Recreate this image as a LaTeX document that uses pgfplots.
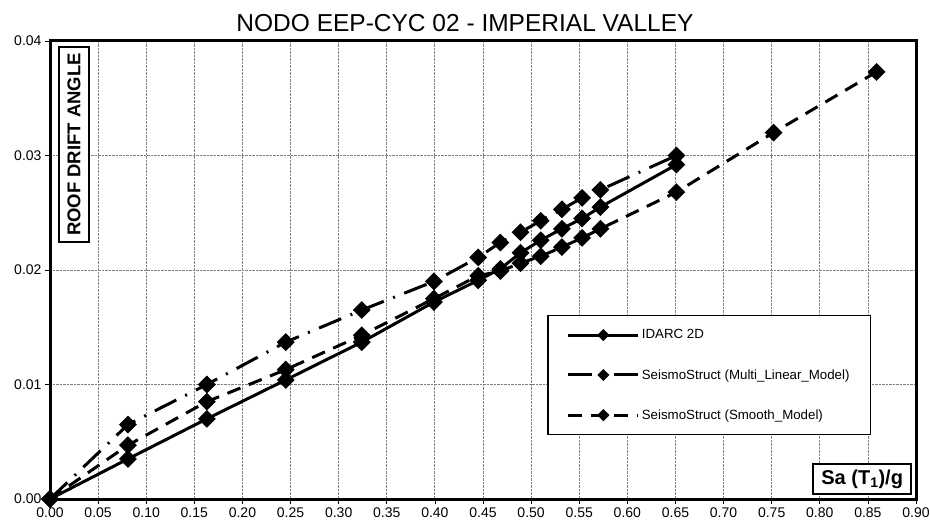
\documentclass[border=0pt]{standalone}
\usepackage{pgfplots}
\pgfplotsset{compat=1.18}
\usepackage{fontspec}
\setmainfont{Liberation Sans}

\begin{document}
\begin{tikzpicture}
\begin{axis}[
  scale only axis,
  width=866pt, height=458pt,
  xmin=0, xmax=0.9, ymin=0, ymax=0.04,
  xtick={0,0.05,0.1,0.15,0.2,0.25,0.3,0.35,0.4,0.45,0.5,0.55,0.6,0.65,0.7,0.75,0.8,0.85,0.9},
  ytick={0,0.01,0.02,0.03,0.04},
  scaled x ticks=false, scaled y ticks=false,
  /pgf/number format/fixed,
  /pgf/number format/fixed zerofill,
  /pgf/number format/precision=2,
  /pgf/number format/assume math mode=true,
  tick label style={font=\fontsize{14}{16}\selectfont},
  grid=major,
  major grid style={gray, densely dotted, line width=0.8pt},
  axis line style={line width=3pt, line cap=rect},
  tick align=outside, tick pos=left, major tick length=5pt,
  every tick/.style={black, line width=0.6pt},
  clip=false,
  legend cell align=left,
  legend style={at={(0.574,0.402)}, anchor=north west, draw=black,
    line width=1.5pt, fill=white, inner xsep=19pt, inner ysep=12pt,
    row sep=25pt, font=\fontsize{13.3}{15}\selectfont},
  legend image code/.code={\draw[mark repeat=2, mark phase=2, #1, mark size=2.8pt]
    plot coordinates {(0pt,0pt) (35pt,0pt) (70pt,0pt)};},
  every axis plot/.append style={line width=3pt, black, mark=square*,
    mark size=4.8pt, mark options={rotate=45, solid, fill=black}},
]
\addplot[solid] coordinates {
  (0,0) (0.081,0.0035) (0.163,0.0070) (0.245,0.0104) (0.324,0.0137)
  (0.399,0.0172) (0.445,0.0191) (0.468,0.0201) (0.489,0.0215) (0.510,0.0226)
  (0.532,0.0236) (0.553,0.0245) (0.572,0.0255) (0.651,0.0292)
};
\addlegendentry{IDARC 2D}
\addplot[dash pattern=on 24pt off 10pt on 2pt off 10pt] coordinates {
  (0,0) (0.081,0.0065) (0.163,0.0100) (0.245,0.0137) (0.324,0.0165)
  (0.399,0.0190) (0.445,0.0211) (0.468,0.0224) (0.489,0.0233) (0.510,0.0243)
  (0.532,0.0253) (0.553,0.0263) (0.572,0.0270) (0.651,0.0300)
};
\addlegendentry{SeismoStruct (Multi\_Linear\_Model)}
\addplot[dash pattern=on 14pt off 9pt] coordinates {
  (0,0) (0.081,0.0047) (0.163,0.0085) (0.245,0.0113) (0.324,0.0143)
  (0.399,0.0175) (0.445,0.0195) (0.468,0.0199) (0.489,0.0206) (0.510,0.0212)
  (0.532,0.0220) (0.553,0.0228) (0.572,0.0236) (0.651,0.0268) (0.752,0.0320)
  (0.859,0.0373)
};
\addlegendentry{SeismoStruct (Smooth\_Model)}
\end{axis}
\node[anchor=base, font=\fontsize{24.5}{28}\selectfont]
  at ([xshift=-18pt,yshift=9pt]current axis.north) {NODO EEP-CYC 02 - IMPERIAL VALLEY};
\node[draw=black, line width=2pt, fill=white, rotate=90, anchor=north east,
  inner xsep=6pt, inner ysep=8.5pt, font=\bfseries\fontsize{18.5}{22}\selectfont]
  at ([xshift=8pt,yshift=-5pt]current axis.north west) {ROOF DRIFT ANGLE};
\node[draw=black, line width=2pt, fill=white, anchor=south east,
  inner xsep=8pt, inner ysep=5.5pt, font=\bfseries\fontsize{20}{24}\selectfont]
  at ([xshift=-4pt,yshift=4pt]current axis.south east) {Sa (T\textsubscript{1})/g};
\pgfresetboundingbox
\path[use as bounding box] ([xshift=-50pt,yshift=-22pt]current axis.south west)
  rectangle ([xshift=14pt,yshift=41pt]current axis.north east);
\end{tikzpicture}
\end{document}
